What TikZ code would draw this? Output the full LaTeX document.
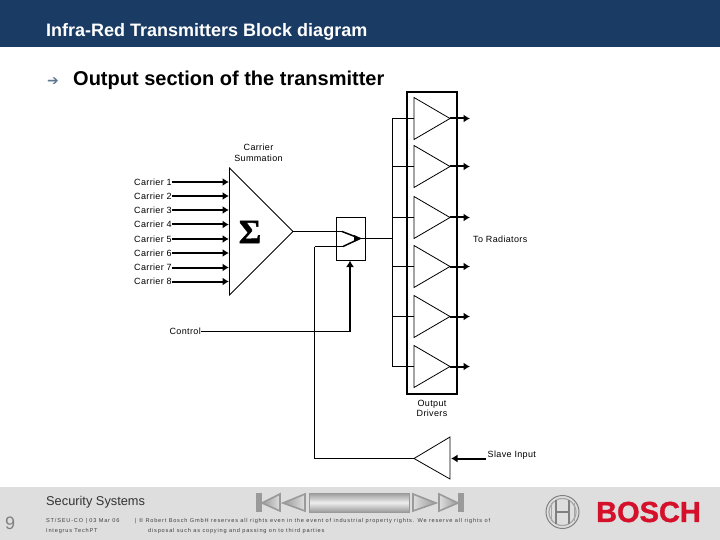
\documentclass[tikz,border=0pt]{standalone}
\usepackage{fontspec}
\setmainfont{Liberation Sans}
\newfontfamily\labelfont[LetterSpace=4]{Liberation Sans}
\newfontfamily\tinyfont[LetterSpace=14.5]{Liberation Sans}
\newfontfamily\arrowfont{DejaVu Sans}
\newfontfamily\sigmafont[FakeBold=1.5]{Liberation Serif}
\newfontfamily\logofont[FakeBold=1.2]{Liberation Sans Bold}
\usetikzlibrary{arrows.meta,calc}
\definecolor{headerblue}{HTML}{1A3C64}
\definecolor{footgray}{HTML}{DEDEDE}
\definecolor{boschred}{HTML}{D5102A}
\definecolor{navgray}{HTML}{9A9A9A}
\tikzset{
  wire/.style={draw=black,line width=0.9pt},
  thickwire/.style={draw=black,line width=2pt},
  feed/.style={thickwire,-{Latex[length=6.5pt,width=8pt]}},
  amp/.style={draw=black,line width=0.8pt,fill=white,line join=miter},
  lbl/.style={font=\labelfont\fontsize{9}{10.5}\selectfont,inner sep=0pt,align=center},
  tiny/.style={font=\tinyfont\fontsize{5.6}{6.5}\selectfont,inner sep=0pt,anchor=west,text=black!75},
  navtri/.style={draw=navgray,line width=1.6pt,left color=navgray,right color=footgray,line join=miter}
}
\begin{document}
\begin{tikzpicture}[x=1pt,y=-1pt,>=Latex,line cap=butt]
  \useasboundingbox (0,0) rectangle (720,540);

  % ---- header and footer bands ------------------------------------------
  \fill[headerblue] (0,0) rectangle (720,47);
  \fill[footgray] (0,487) rectangle (720,540);
  \node[white,anchor=west,inner sep=0pt,font=\bfseries\fontsize{18}{20}\selectfont] (title) at (46,31.5)
        {Infra-Red Transmitters Block diagram};
  \node[anchor=west,inner sep=0pt,font=\bfseries\fontsize{20}{22}\selectfont] (subtitle) at (73,80)
        {Output section of the transmitter};
  \node[headerblue!70,anchor=west,inner sep=0pt,font=\arrowfont\fontsize{14}{16}\selectfont] (bullet) at (47,81.5) {➔};

  % ---- carrier summation ------------------------------------------------
  \draw[amp] (229.5,168) coordinate (sumtop) -- (293,231.5) coordinate (sumout)
        -- (229.5,295) coordinate (sumbot) -- cycle;
  \node[font=\sigmafont\bfseries\fontsize{34}{34}\selectfont,inner sep=0pt] (sigma) at (250,232) {Σ};
  \node[lbl] (sumlabel) at (258.5,153) {Carrier\\Summation};
  \foreach \n/\yy in {1/182,2/196,3/210,4/224.5,5/239,6/253,7/267.5,8/281.5}{
     \node[lbl,anchor=west] (carrier\n) at (134,\yy) {Carrier \n};
     \coordinate (sumin\n) at (229,\yy);
     \draw[feed] (carrier\n.east) -- (sumin\n);
  }

  % ---- changeover switch ------------------------------------------------
  \node[draw=black,line width=0.8pt,fill=white,minimum width=29pt,minimum height=43pt,inner sep=0pt] (switch) at (350.5,238.5) {};
  \coordinate (contact) at (360,238.5);
  \coordinate (slavein) at (314.5,246.5);
  \draw[wire] (sumout) -- (342,231.5);
  \draw[wire] (slavein) -- (343,246.5);
  \draw[line width=1.5pt] (342,231.5) -- (contact) -- (343,246.5);
  \fill (contact) ++(-6,-3.5) -- ++(7,3.5) -- ++(-7,3.5) -- cycle;
  \node[lbl,anchor=east] (control) at (201,331.5) {Control};
  \draw[wire] (control.east) -- (349,331.5);
  \draw[feed] (350,332) -- (350,260.5);

  % ---- output drivers ---------------------------------------------------
  \coordinate (bus) at (392.5,238.5);
  \draw[thickwire,fill=white] (407,92) rectangle (457,394);
  \draw[wire] (contact) -- (bus);
  \draw[wire] (392.5,118.5) -- (392.5,366.5);
  \foreach \i/\yy in {1/118.5,2/166.5,3/217.5,4/266.5,5/316.5,6/366.5}{
     \draw[wire] (392.5,\yy) -- (414,\yy);
     \draw[amp] (414,\yy-21) -- (450,\yy) coordinate (drv\i) -- (414,\yy+21) -- cycle;
     \coordinate (rad\i) at (470,\yy);
     \draw[feed] (drv\i) -- (rad\i);
  }
  \node[lbl,anchor=west] (radiators) at (473,239) {To Radiators};
  \node[lbl] (drivers) at (432,408.5) {Output\\Drivers};

  % ---- slave input ------------------------------------------------------
  \draw[amp] (450,437) -- (414,458.5) coordinate (slavetip) -- (450,479) coordinate (slavebot) -- cycle;
  \draw[wire] (slavein) -- (314.5,458.5) -- (slavetip);
  \node[lbl,anchor=west] (slave) at (487.5,455.5) {Slave Input};
  \coordinate (slaveback) at (451,458.5);
  \draw[feed] (486,458.5) -- (slaveback);

  % ---- footer text ------------------------------------------------------
  \node[anchor=west,inner sep=0pt,text=black!80,font=\fontsize{12.8}{14}\selectfont] (dept) at (46,502) {Security Systems};
  \node[anchor=west,inner sep=0pt,text=gray,font=\fontsize{18}{20}\selectfont] (page) at (5,523.5) {9};
  \node[tiny] (date) at (46,521) {ST/SEU-CO | 03 Mar 06};
  \node[tiny] (file) at (46,531) {Integrus TechPT};
  \node[tiny] (rights) at (135,521) {| © Robert Bosch GmbH reserves all rights even in the event of industrial property rights. We reserve all rights of};
  \node[tiny] (rights2) at (148,531) {disposal such as copying and passing on to third parties};

  % ---- navigation buttons -----------------------------------------------
  \fill[navgray] (256,493) rectangle (262,512);
  \draw[navtri] (280,494) -- (262,503) -- (280,511) -- cycle;
  \draw[navtri] (305,494) -- (283,503) -- (305,511) -- cycle;
  \shade[top color=navgray,bottom color=navgray,middle color=footgray!50!white,draw=navgray] (309,493) rectangle (409,512);
  \draw[navtri,left color=footgray,right color=navgray] (413,494) -- (436,503) -- (413,511) -- cycle;
  \draw[navtri,left color=footgray,right color=navgray] (439,494) -- (458,503) -- (439,511) -- cycle;
  \fill[navgray] (458,493) rectangle (464,512);

  % ---- logo -------------------------------------------------------------
  \draw[gray,line width=1pt] (562.5,512) circle (16.5);
  \draw[gray!70,line width=1.2pt] (562.5,512) circle (13.5);
  \draw[gray,line width=1.3pt] (556,500) -- (556,524) (569,500) -- (569,524) (556,512) -- (569,512);
  \draw[gray!70,line width=1pt] (551,503) -- (551,521) (574,503) -- (574,521);
  \node[boschred,inner sep=0pt,font=\logofont\fontsize{29}{29}\selectfont] (bosch) at (648.5,512) {BOSCH};

\end{tikzpicture}
\end{document}
